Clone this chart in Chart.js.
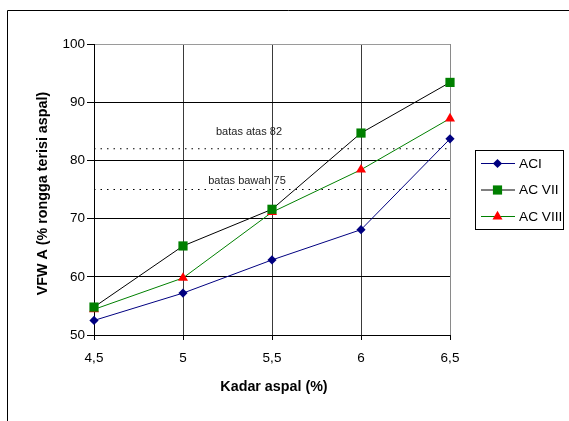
<!DOCTYPE html>
<html>
<head>
<meta charset="utf-8">
<script src="https://cdn.jsdelivr.net/npm/chart.js@4"></script>
<style>
  html, body { margin: 0; padding: 0; background: #fff; }
  #wrap { width: 569px; height: 421px; position: relative; }
</style>
</head>
<body>
<div id="wrap"><canvas id="c" width="569" height="421"></canvas></div>
<script>
// Kadar aspal (%) on the x axis
const kadarAspal = [4.5, 5, 5.5, 6, 6.5];
// VFWA values per mix
const seriesNames = ['ACI', 'AC VII', 'AC VIII'];
const vfwaACI = [52.5, 57.2, 62.9, 68.1, 83.7];
const vfwaACVII = [54.8, 65.3, 71.6, 84.7, 93.4];
const vfwaACVIII = [54.4, 59.8, 71.1, 78.4, 87.2];
// specification limits
const limitNames = ['batas atas 82', 'batas bawah 75'];
const limitValues = [82, 75];
const yTicks = [50, 60, 70, 80, 90, 100];

const FONT = '"Liberation Sans", Arial, sans-serif';

function pts(values) {
  return kadarAspal.map((x, i) => ({ x: x, y: values[i] }));
}
function limitLine(v) {
  return [{ x: kadarAspal[0], y: v }, { x: kadarAspal[kadarAspal.length - 1], y: v }];
}

const seriesStyle = [
  { color: '#000080', line: '#000080', shape: 'rectRot', r: 4.6 },
  { color: '#008000', line: '#000000', shape: 'rect', r: 6.5 },
  { color: '#ff0000', line: '#008000', shape: 'triangle', r: 5.8 }
];
const seriesValues = [vfwaACI, vfwaACVII, vfwaACVIII];

const datasets = seriesNames.map((name, i) => ({
  label: name,
  data: pts(seriesValues[i]),
  borderColor: seriesStyle[i].line,
  backgroundColor: seriesStyle[i].color,
  pointBackgroundColor: seriesStyle[i].color,
  pointBorderColor: seriesStyle[i].color,
  pointBorderWidth: 0,
  pointStyle: seriesStyle[i].shape,
  pointRadius: seriesStyle[i].r,
  borderWidth: 1,
  tension: 0,
  clip: false,
  order: 1
}));
limitValues.forEach((v, i) => datasets.push({
  label: limitNames[i],
  data: limitLine(v),
  borderColor: '#000',
  borderWidth: 1,
  borderDash: [1.5, 5],
  pointRadius: 0,
  tension: 0,
  order: 2
}));

const decor = {
  id: 'decor',
  afterDraw(chart) {
    const ctx = chart.ctx;
    const ys = chart.scales.y;
    ctx.save();
    // outer frame
    ctx.strokeStyle = '#000';
    ctx.lineWidth = 1;
    ctx.beginPath();
    ctx.moveTo(7.5, 430); ctx.lineTo(7.5, 10.5); ctx.lineTo(580, 10.5);
    ctx.stroke();

    // limit labels
    ctx.fillStyle = '#222';
    ctx.font = '11px ' + FONT;
    ctx.textAlign = 'center';
    ctx.textBaseline = 'middle';
    const offs = [17, 9];
    limitValues.forEach((v, i) => {
      ctx.fillText(limitNames[i], [249, 247][i], ys.getPixelForValue(v) - offs[i]);
    });

    // axis titles
    ctx.fillStyle = '#000';
    ctx.font = 'bold 14.3px ' + FONT;
    ctx.fillText('Kadar aspal (%)', 274, 387);
    ctx.save();
    ctx.translate(43, 193.5);
    ctx.rotate(-Math.PI / 2);
    ctx.fillText('VFW A (% rongga terisi aspal)', 0, 0);
    ctx.restore();

    // legend box
    const bx = 475.5, by = 150.5, bw = 88, bh = 79;
    ctx.fillStyle = '#fff';
    ctx.fillRect(bx, by, bw, bh);
    ctx.strokeStyle = '#000';
    ctx.strokeRect(bx, by, bw, bh);
    const rows = [163.5, 190, 216.5];
    ctx.font = '13.7px ' + FONT;
    ctx.textAlign = 'left';
    seriesNames.forEach((name, i) => {
      const y = rows[i];
      const st = seriesStyle[i];
      ctx.strokeStyle = st.line;
      ctx.lineWidth = 1;
      ctx.beginPath();
      ctx.moveTo(481, y); ctx.lineTo(515, y);
      ctx.stroke();
      ctx.fillStyle = st.color;
      ctx.strokeStyle = st.color;
      Chart.helpers.drawPoint(ctx, {
        pointStyle: st.shape,
        radius: st.r,
        rotation: 0,
        borderWidth: 0
      }, 497.5, y);
      ctx.fillStyle = '#000';
      ctx.fillText(name, 519, y + 0.5);
    });
    ctx.restore();
  }
};

new Chart(document.getElementById('c'), {
  type: 'line',
  data: { datasets },
  options: {
    responsive: false,
    animation: false,
    devicePixelRatio: 1,
    layout: { padding: { left: 0, top: 44, right: 119, bottom: 0 } },
    plugins: {
      legend: { display: false },
      tooltip: { enabled: false }
    },
    scales: {
      x: {
        type: 'linear',
        min: 4.5, max: 6.5,
        afterFit: s => { s.height = 86; },
        afterBuildTicks: s => { s.ticks = kadarAspal.map(v => ({ value: v })); },
        border: { color: '#000', width: 1 },
        grid: {
          color: ctx => ctx.index === kadarAspal.length - 1 ? '#8a8a8a' : '#3a3a3a',
          tickColor: '#000',
          tickLength: 5,
          lineWidth: 1
        },
        ticks: {
          color: '#000',
          font: { family: FONT, size: 13.5 },
          padding: 10,
          maxRotation: 0,
          callback: v => String(v).replace('.', ',')
        }
      },
      y: {
        min: 50, max: 100,
        afterFit: s => { s.width = 94; },
        afterBuildTicks: s => { s.ticks = yTicks.map(v => ({ value: v })); },
        border: { color: '#000', width: 1 },
        grid: {
          color: ctx => ctx.tick && ctx.tick.value === 100 ? '#9a9a9a' : '#000',
          tickColor: '#000',
          tickLength: 7,
          lineWidth: 1
        },
        ticks: {
          color: '#000',
          font: { family: FONT, size: 13.5 },
          padding: 2
        }
      }
    }
  },
  plugins: [decor]
});
</script>
</body>
</html>
